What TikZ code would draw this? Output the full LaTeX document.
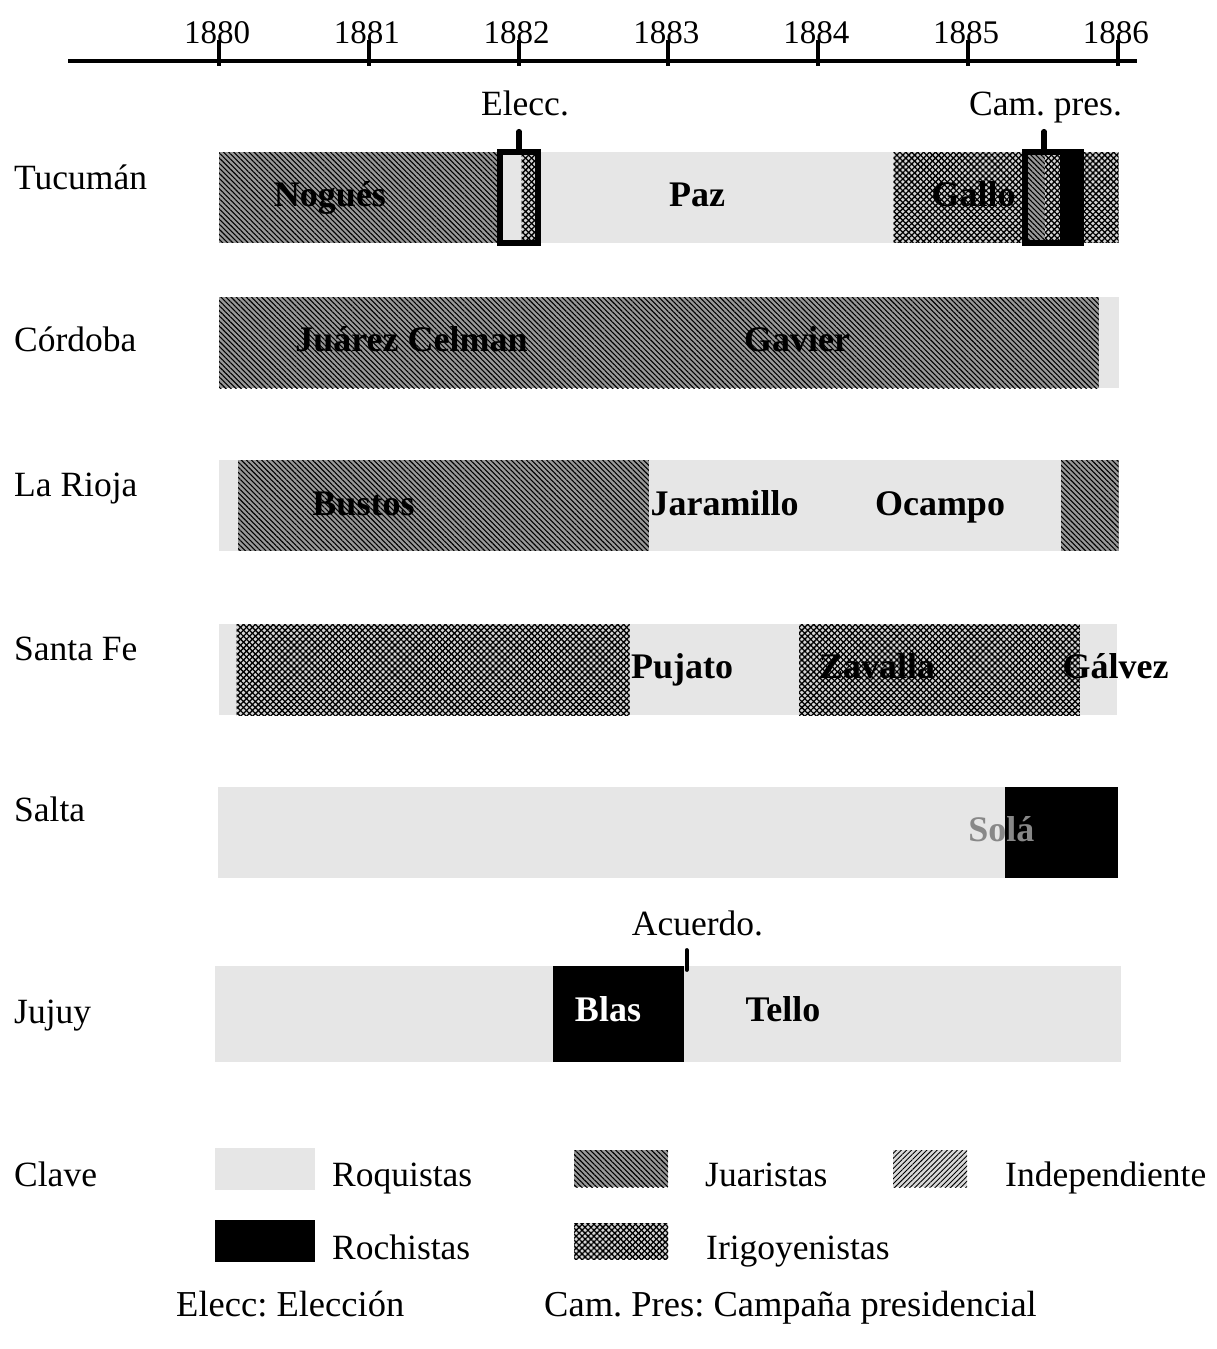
\documentclass[tikz,border=0pt]{standalone}
\usepackage{fontspec}
\setmainfont{Liberation Serif}
\usetikzlibrary{patterns.meta}
\frenchspacing
\definecolor{roqc}{HTML}{E6E6E6}
\definecolor{juarbg}{HTML}{999999}
\definecolor{indbg}{HTML}{D9D9D9}
\definecolor{irigbg}{HTML}{D4D4D4}
\definecolor{solac}{HTML}{888888}
\tikzset{
 roq/.style={fill=roqc},
 roch/.style={fill=black},
 juar/.style={preaction={fill=juarbg}, pattern={Lines[angle=-45,distance=3.6pt,line width=1.1pt]}, pattern color=black},
 indep/.style={preaction={fill=indbg}, pattern={Lines[angle=45,distance=3.6pt,line width=0.9pt]}, pattern color=black},
 irig/.style={preaction={fill=irigbg}, pattern={Lines[angle=45,distance=4.2pt,line width=1.3pt]}, pattern color=black,
   postaction={pattern={Lines[angle=-45,distance=4.2pt,line width=1.3pt]}, pattern color=black}},
 txt/.style={inner sep=0pt, font=\fontsize{35.5}{42}\selectfont\frenchspacing},
 foot/.style={inner sep=0pt, font=\fontsize{36.5}{44}\selectfont\frenchspacing},
 yr/.style={inner sep=0pt, anchor=base, font=\fontsize{33}{40}\selectfont},
 lbl/.style={inner sep=0pt, anchor=base, font=\fontsize{36}{42}\selectfont\bfseries},
 axisline/.style={line width=3.3pt},
 tickline/.style={line width=4pt},
 markbox/.style={draw=black, line width=6pt},
 marktick/.style={line width=5.5pt, line cap=round},
}
\newcommand\barseg[5]{\path[#1] (#2,-#3) rectangle (#4,-#5);}
\begin{document}
\begin{tikzpicture}[x=1pt,y=1pt]
\useasboundingbox (0,0) rectangle (1216,-1349);
% axis
\coordinate (axL) at (68,-61);
\coordinate (axR) at (1137,-61);
\draw[axisline] (axL) -- (axR);
\foreach \i in {0,...,6} {
  \pgfmathsetmacro\xx{219+149.83*\i}
  \coordinate (tt\i) at (\xx,-40);
  \coordinate (tb\i) at (\xx,-66);
  \node[yr] (yr\i) at (\xx-2,-43.3) {\the\numexpr1880+\i\relax};
  \draw[tickline] (tt\i) -- (tb\i);
}
% row labels
\node[txt,anchor=base west] (rTuc) at (14,-189.3) {Tucumán};
\node[txt,anchor=base west] (rCor) at (14,-351.7) {Córdoba};
\node[txt,anchor=base west] (rRio) at (14,-496.7) {La Rioja};
\node[txt,anchor=base west] (rSF)  at (14,-660) {Santa Fe};
\node[txt,anchor=base west] (rSal) at (14,-821.7) {Salta};
\node[txt,anchor=base west] (rJuj) at (14,-1023) {Jujuy};
\node[txt,anchor=base west] (rCla) at (14,-1186) {Clave};
% Tucuman
\barseg{juar}{219}{152.3}{500}{242.7}
\barseg{roq}{500}{152.3}{521.7}{242.7}
\barseg{irig}{521.7}{152.3}{538}{242.7}
\barseg{roq}{537.7}{152.3}{893.7}{242.7}
\barseg{irig}{893.7}{152.3}{1118.5}{242.7}
\barseg{juar}{1025}{152.3}{1045}{242.7}
\barseg{irig}{1045}{152.3}{1060}{242.7}
\barseg{roch}{1060}{152.3}{1084.3}{242.7}
\coordinate (e1t) at (519,-131.7);
\coordinate (e1b) at (519,-152);
\coordinate (c1t) at (1044,-131.7);
\coordinate (c1b) at (1044,-152);
\draw[marktick] (e1t) -- (e1b);
\draw[marktick] (c1t) -- (c1b);
\draw[markbox] (499.7,-152.3) rectangle (537.7,-242.7);
\draw[markbox] (1025.4,-152.3) rectangle (1081.3,-242.7);
\node[txt,anchor=base] (elecc) at (525,-115) {Elecc.};
\node[txt,anchor=base] (campres) at (1045.5,-115) {Cam. pres.};
\node[lbl] (nNog) at (330,-206.7) {Nogués};
\node[lbl] (nPaz) at (697,-206.7) {Paz};
\node[lbl] (nGal) at (973.7,-206.7) {Gallo};
% Cordoba
\barseg{juar}{219}{297.3}{1099}{388.3}
\barseg{roq}{1099}{297.3}{1118.5}{388.3}
\node[lbl] (nJua) at (411.5,-351.7) {Juárez Celman};
\node[lbl] (nGav) at (797,-351.7) {Gavier};
% La Rioja
\barseg{roq}{219}{460}{238}{550.7}
\barseg{juar}{238}{460}{649}{550.7}
\barseg{roq}{649}{460}{1061}{550.7}
\barseg{juar}{1061}{460}{1118.5}{550.7}
\node[lbl] (nBus) at (363.5,-515) {Bustos};
\node[lbl] (nJar) at (724.5,-515) {Jaramillo};
\node[lbl] (nOca) at (940,-515) {Ocampo};
% Santa Fe
\barseg{roq}{219}{624}{236.6}{715}
\barseg{irig}{236.6}{624}{629.5}{715}
\barseg{roq}{629.5}{624}{799.2}{715}
\barseg{irig}{799.2}{624}{1080.2}{715}
\barseg{roq}{1080.2}{624}{1117}{715}
\node[lbl] (nPuj) at (682,-678.5) {Pujato};
\node[lbl] (nZav) at (877,-678.5) {Zavalla};
\node[lbl] (nGalv) at (1115.6,-678.5) {Gálvez};
% Salta
\barseg{roq}{218}{787.3}{1005}{877.7}
\barseg{roch}{1005}{787.3}{1118}{877.7}
\node[lbl,text=solac] (nSol) at (1001.4,-841.7) {Solá};
% Jujuy
\barseg{roq}{215}{965.7}{1121}{1062.3}
\barseg{roch}{552.7}{965.7}{684}{1062.3}
\coordinate (a1t) at (686.7,-950);
\coordinate (a1b) at (686.7,-970);
\draw[line width=3.8pt, line cap=round] (a1t) -- (a1b);
\node[txt,anchor=base west] (acu) at (631.7,-935) {Acuerdo.};
\node[lbl,text=white] (nBla) at (608,-1021.7) {Blas};
\node[lbl] (nTel) at (783,-1021.7) {Tello};
% legend
\barseg{roq}{215}{1148}{315}{1190}
\barseg{roch}{215}{1220}{315}{1262}
\barseg{juar}{574}{1150}{668}{1187}
\barseg{irig}{574}{1223}{668}{1259}
\barseg{indep}{893}{1150}{967}{1187}
\node[txt,anchor=base west] (kRoq) at (332,-1186) {Roquistas};
\node[txt,anchor=base west] (kRoc) at (332,-1259) {Rochistas};
\node[txt,anchor=base west] (kJua) at (705,-1186) {Juaristas};
\node[txt,anchor=base west] (kIri) at (706,-1259) {Irigoyenistas};
\node[txt,anchor=base west] (kInd) at (1005,-1186) {Independiente};
% footnotes
\node[foot,anchor=base west] (f1) at (176,-1316) {Elecc: Elección};
\node[foot,anchor=base west] (f2) at (544,-1316) {Cam. Pres: Campaña presidencial};
\end{tikzpicture}
\end{document}
